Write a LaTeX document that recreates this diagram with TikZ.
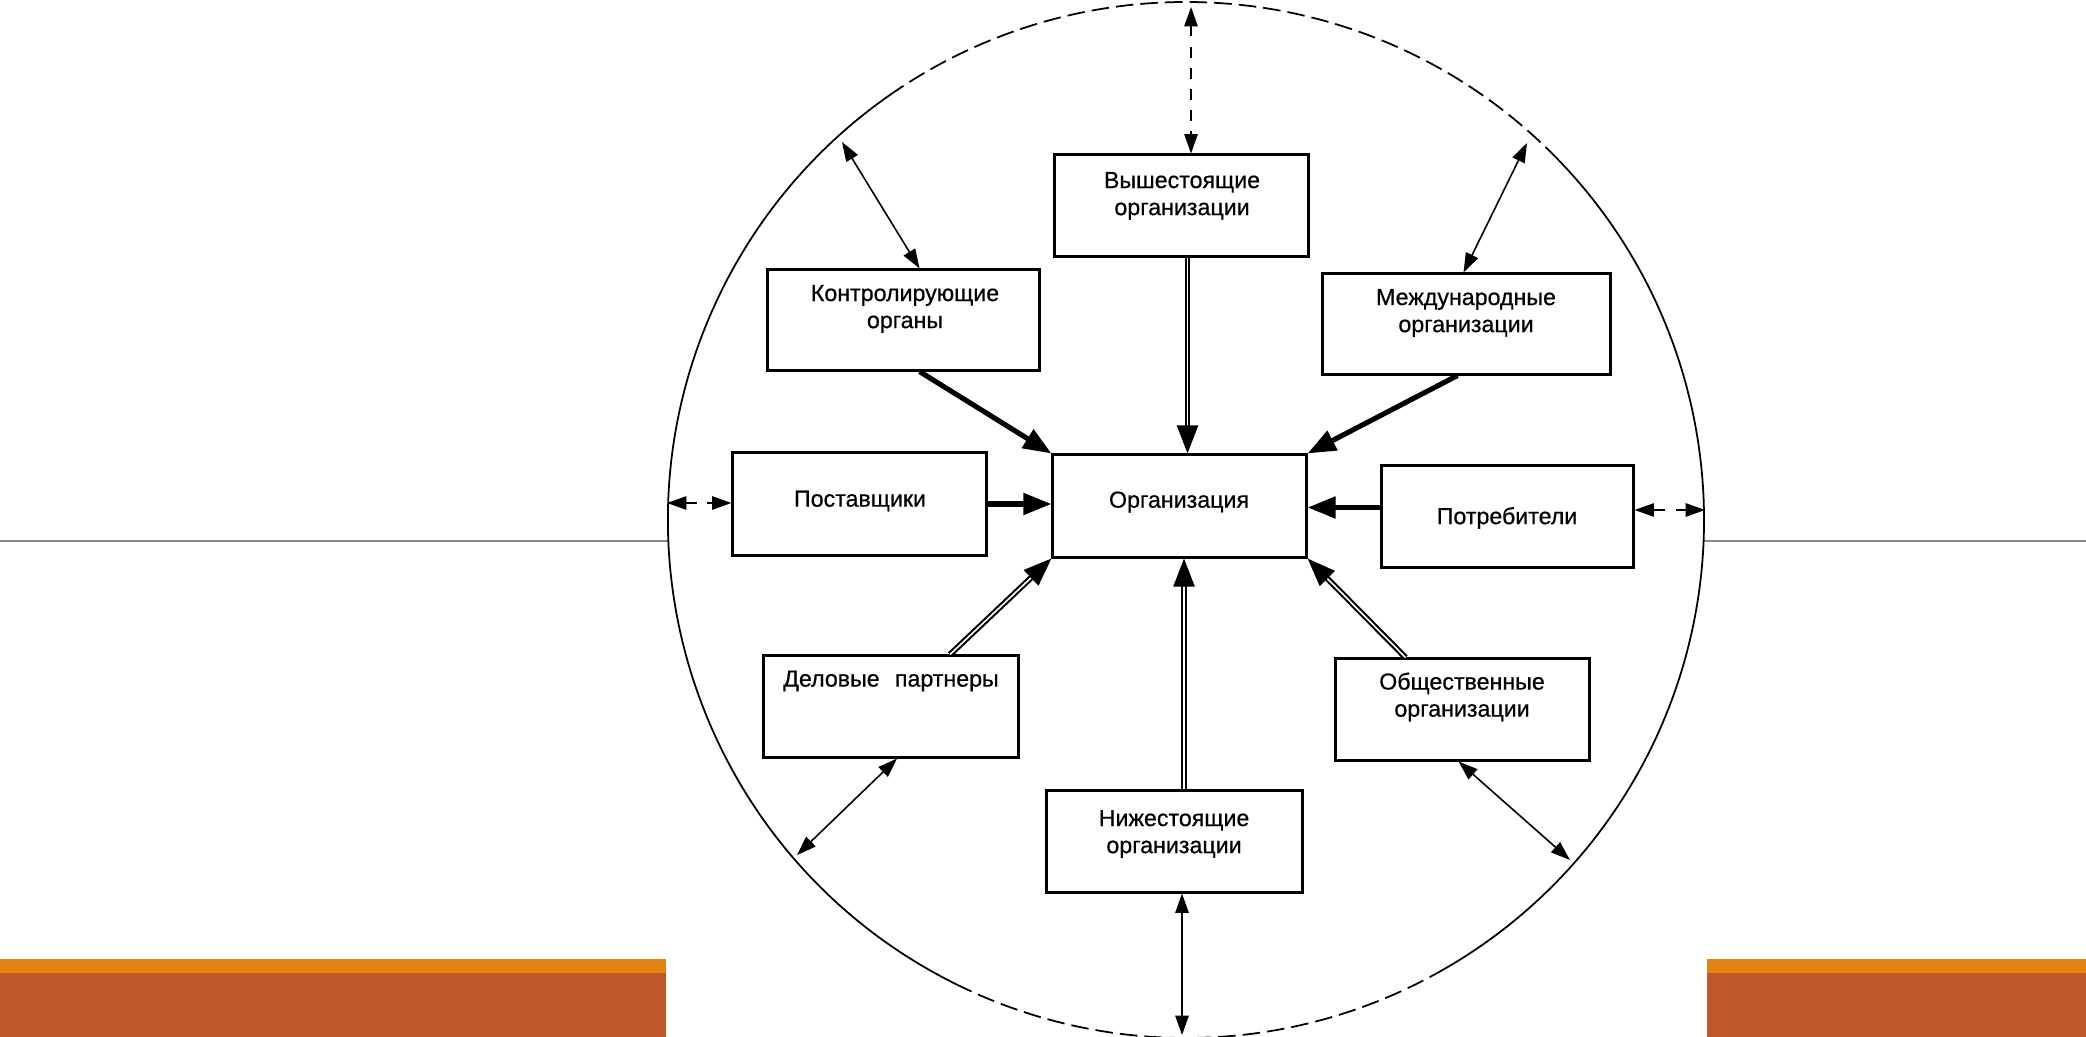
\documentclass[tikz,border=0pt]{standalone}
\usepackage{fontspec}
\setmainfont{Liberation Sans}
\newfontfamily\scanfont[FakeBold=0.6]{Liberation Sans}
\usetikzlibrary{arrows.meta,calc}
\definecolor{orA}{HTML}{E48312}
\definecolor{orB}{HTML}{BD582C}
\definecolor{rulegray}{HTML}{8A8A8A}
\begin{document}
\begin{tikzpicture}[x=0.01cm,y=-0.01cm,
  box/.style={draw, line width=0.85pt, rectangle, inner sep=0pt},
  txt/.style={font=\scanfont\fontsize{6.6}{7.7}\selectfont, align=center, inner sep=0pt},
  heavy/.style={line width=1.45pt, -{Triangle[length=8pt,width=6pt]}},
  dbl/.style={double, line width=0.6pt, double distance=0.45pt, -{Triangle[length=8pt,width=6pt]}},
  thintwo/.style={line width=0.45pt, {Triangle[length=5.5pt,width=3.8pt]}-{Triangle[length=5.5pt,width=3.8pt]}},
  ring/.style={line width=0.5pt},
  ringdash/.style={line width=0.5pt, dash pattern=on 5pt off 2pt},
  ]
\useasboundingbox (0,0) rectangle (2086,1037);
% slide decorations
\fill[orA] (0,959) rectangle (666,973);
\fill[orB] (0,973) rectangle (666,1037);
\fill[orA] (1707,959) rectangle (2086,973);
\fill[orB] (1707,973) rectangle (2086,1037);
\draw[rulegray, line width=0.55pt] (0,541) -- (668,541);
\draw[rulegray, line width=0.55pt] (1704,541) -- (2086,541);
% environment circle
\coordinate (cen) at (1186,520);
\draw[ring] (cen) ++(315:518) arc[start angle=315, end angle=420, radius=518];
\draw[ringdash] (cen) ++(60:518) arc[start angle=60, end angle=115, radius=518];
\draw[ring] (cen) ++(115:518) arc[start angle=115, end angle=235, radius=518];
\draw[ringdash] (cen) ++(235:518) arc[start angle=235, end angle=315, radius=518];
% boxes
\node[box, minimum width=2.53cm, minimum height=1.01cm] (up)  at (1181.5,205.5) {};
\node[box, minimum width=2.71cm, minimum height=1.00cm] (kon) at (903.5,320) {};
\node[box, minimum width=2.87cm, minimum height=1.00cm] (mez) at (1466.5,324) {};
\node[box, minimum width=2.53cm, minimum height=1.02cm] (pos) at (859.5,504) {};
\node[box, minimum width=2.53cm, minimum height=1.02cm] (org) at (1179.5,506) {};
\node[box, minimum width=2.51cm, minimum height=1.01cm] (pot) at (1507.5,516.5) {};
\node[box, minimum width=2.54cm, minimum height=1.01cm] (del) at (891,706.5) {};
\node[box, minimum width=2.53cm, minimum height=1.01cm] (obs) at (1462.5,709.5) {};
\node[box, minimum width=2.55cm, minimum height=1.01cm] (nij) at (1174.5,841.5) {};
% texts
\node[txt] (upT)  at (1182,196) {Вышестоящие\\организации};
\node[txt] (konT) at (905,309) {Контролирующие\\органы};
\node[txt] (mezT) at (1466,313) {Международные\\организации};
\node[txt] (posT) at (860,501) {Поставщики};
\node[txt] (orgT) at (1179,502) {Организация};
\node[txt] (potT) at (1507,518) {Потребители};
\node[txt] (delT) at (891,681) {Деловые\hspace{2.5pt} партнеры};
\node[txt] (obsT) at (1462,697) {Общественные\\организации};
\node[txt] (nijT) at (1174,834) {Нижестоящие\\организации};
% main arrows into the organisation
\draw[dbl] ($(up.south)+(6,0)$) -- ($(org.north)+(8,0)$);
\draw[heavy] ($(kon.south)+(16,0)$) -- (org.north west);
\draw[heavy] ($(mez.south)+(-9,0)$) -- (org.north east);
\draw[heavy] (pos.east) -- (pos.east -| org.west);
\coordinate (potA) at ($(pot.west)+(0,-9)$);
\draw[heavy] (potA) -- (potA -| org.east);
\draw[dbl] ($(del.north)+(59,0)$) -- (org.south west);
\draw[dbl] ($(nij.north)+(9.5,0)$) -- ($(org.south)+(4.5,0)$);
\draw[dbl] ($(obs.north)+(-57,0)$) -- (org.south east);
% links to the environment
\coordinate (cTop) at (1191,7);
\draw[thintwo, dashed] (cTop) -- (cTop |- up.north);
\coordinate (cKon) at (842,142);
\draw[thintwo] (cKon) -- ($(kon.north)+(16,0)$);
\coordinate (cMez) at (1527,143);
\draw[thintwo] (cMez) -- ($(mez.north)+(-3,0)$);
\coordinate (cPos) at (667,503);
\draw[thintwo, dashed] (cPos) -- (cPos -| pos.west);
\coordinate (cPot) at (1705,510);
\draw[thintwo, dashed] (cPot) -- (cPot -| pot.east);
\coordinate (cDel) at (797,855);
\draw[thintwo] (cDel) -- ($(del.south)+(6,0)$);
\coordinate (cObs) at (1570,860);
\draw[thintwo] (cObs) -- ($(obs.south)+(-4,0)$);
\coordinate (cNij) at (1182,1035);
\draw[thintwo] (cNij) -- (cNij |- nij.south);
\end{tikzpicture}
\end{document}
